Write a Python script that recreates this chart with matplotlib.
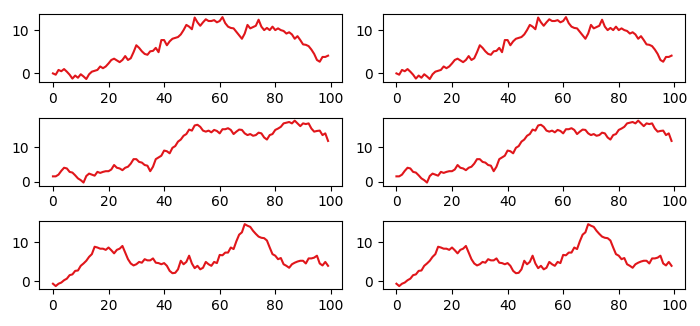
import numpy as np
import matplotlib
matplotlib.use('Agg')
import matplotlib.pyplot as plt

# three walks, each drawn twice (left and right column)
walk_a = [0, -0.3, 0.8, 0.5, 1.0, 0.4, -0.3, -1.2, -0.5, -1.0,
          -0.2, -0.7, -1.3, -0.2, 0.4, 0.6, 0.8, 1.6, 1.2, 1.6,
          2.3, 3.1, 3.4, 3.0, 2.6, 3.1, 4.0, 3.1, 3.5, 4.9,
          6.5, 5.9, 5.1, 4.5, 4.3, 5.1, 5.2, 5.9, 4.9, 7.7,
          7.7, 6.5, 7.4, 8.0, 8.2, 8.4, 9.0, 10.0, 11.2, 10.8,
          10.2, 12.9, 11.8, 11.0, 11.8, 12.5, 12.1, 12.1, 12.3, 11.8,
          12.1, 13.0, 11.6, 10.8, 10.5, 10.4, 9.6, 8.8, 8.0, 9.2,
          11.2, 10.4, 10.7, 11.0, 12.4, 10.8, 10.0, 10.5, 10.0, 10.8,
          10.0, 10.4, 10.0, 9.8, 9.2, 9.5, 9.0, 8.0, 8.6, 7.7,
          6.7, 6.6, 6.3, 5.5, 4.5, 3.1, 2.7, 3.8, 3.8, 4.1]

walk_b = [1.5, 1.5, 2.0, 3.1, 4.0, 3.8, 2.8, 2.6, 1.8, 0.9,
          0.4, -0.3, 1.6, 2.3, 2.0, 1.7, 2.8, 2.5, 2.8, 3.0,
          3.0, 3.5, 4.8, 4.0, 3.8, 3.3, 4.0, 4.3, 5.2, 6.5,
          6.5, 5.7, 5.5, 4.8, 4.6, 3.0, 4.3, 6.5, 7.0, 7.5,
          9.0, 8.8, 8.2, 9.8, 10.3, 11.6, 12.2, 13.3, 13.8, 15.1,
          14.8, 16.3, 16.5, 15.9, 14.8, 14.5, 14.8, 14.3, 15.0, 14.7,
          14.0, 15.2, 15.2, 15.5, 15.0, 13.8, 14.5, 15.1, 15.0, 14.0,
          13.5, 13.8, 13.3, 13.5, 14.2, 14.0, 12.8, 12.2, 13.5, 13.8,
          15.0, 15.4, 15.9, 16.9, 17.1, 17.3, 16.9, 17.7, 16.9, 16.1,
          16.9, 16.7, 16.9, 15.4, 14.5, 14.7, 14.8, 13.5, 14.0, 11.8]

walk_c = [-0.6, -1.2, -0.6, -0.3, 0.3, 0.7, 1.6, 1.8, 2.7, 2.8,
          4.0, 4.6, 5.3, 6.3, 7.0, 8.9, 8.7, 8.4, 8.4, 8.1,
          8.7, 8.0, 7.2, 8.1, 8.4, 9.1, 7.4, 5.7, 4.6, 4.1,
          4.4, 5.0, 4.8, 5.7, 5.4, 5.4, 5.9, 4.8, 4.7, 4.4,
          4.7, 4.0, 2.7, 2.1, 2.2, 3.1, 5.3, 4.4, 5.0, 6.6,
          4.6, 3.4, 4.0, 3.1, 3.5, 5.0, 4.4, 4.0, 5.0, 4.7,
          6.8, 6.7, 7.4, 7.4, 8.7, 8.3, 10.3, 12.0, 12.6, 14.7,
          14.3, 14.0, 13.0, 12.2, 11.5, 11.2, 11.1, 10.5, 8.7, 7.0,
          6.6, 5.7, 6.0, 4.4, 4.0, 3.5, 4.4, 4.8, 5.1, 5.3,
          5.3, 4.6, 5.9, 5.9, 6.1, 6.6, 4.6, 4.1, 5.0, 4.0]

walks = [walk_a, walk_b, walk_c]

fig, axes = plt.subplots(3, 2, figsize=(7, 3.26), dpi=100)

for row, w in zip(axes, walks):
    for ax in row:
        ax.plot(np.arange(len(w)), w, color='#e0161b')
        ax.set_xticks([0, 20, 40, 60, 80, 100])
        ax.set_yticks([0, 10])

fig.subplots_adjust(left=0.056, right=0.979, top=0.957, bottom=0.113,
                    wspace=0.135, hspace=0.52)
plt.savefig('out.png')
